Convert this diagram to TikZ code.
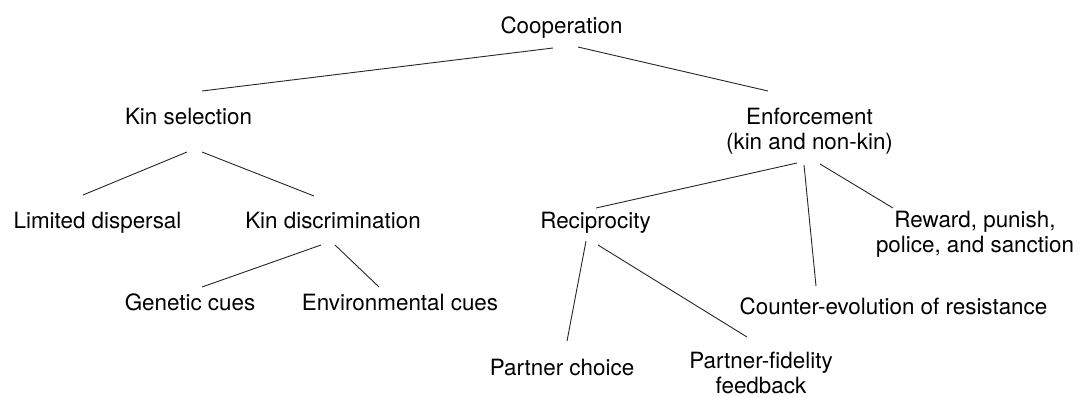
\documentclass[tikz,border=0pt]{standalone}
\usepackage{fontspec}
\setmainfont{TeX Gyre Heros}
\usepackage{tikz}

\begin{document}
\begin{tikzpicture}[
x=1pt, y=-1pt,
term/.style={inner sep=0pt, anchor=base, align=center,
font=\fontsize{22.4}{24.5}\selectfont},
link/.style={line width=0.9pt, draw=black!85}
]
\useasboundingbox (0,0) rectangle (1083,397);

% top levels (two-line nodes sit on their last baseline)
\node[term] (coop) at (561.5,33) {Cooperation};
\node[term] (kinsel) at (188.5,124) {Kin selection};
\node[term] (enforce) at (809.5,149) {Enforcement\\(kin and non-kin)};

% kin selection branch
\node[term] (limdisp) at (97.5,228) {Limited dispersal};
\node[term] (kindisc) at (333,228) {Kin discrimination};
\node[term] (genetic) at (190,310) {Genetic cues};
\node[term] (environ) at (400,310) {Environmental cues};

% enforcement branch
\node[term] (recip) at (595.5,228) {Reciprocity};
\node[term] (reward) at (975,252) {Reward, punish,\\police, and sanction};
\node[term] (counter) at (893.5,314) {Counter-evolution of resistance};
\node[term] (pchoice) at (562,375) {Partner choice};
\node[term] (pfidel) at (761,393) {Partner-fidelity\\feedback};

\draw[link] ([xshift=-8.5pt,yshift=-15pt]coop.base) -- ([xshift=13.5pt,yshift=33pt]kinsel.base);
\draw[link] ([xshift=16.5pt,yshift=-14pt]coop.base) -- ([xshift=-41.5pt,yshift=58pt]enforce.base);

\draw[link] ([xshift=-1.5pt,yshift=-28pt]kinsel.base) -- ([xshift=-14.5pt,yshift=33pt]limdisp.base);
\draw[link] ([xshift=13.5pt,yshift=-28pt]kinsel.base) -- ([xshift=-19pt,yshift=32pt]kindisc.base);
\draw[link] ([xshift=-12pt,yshift=-17pt]kindisc.base) -- ([xshift=12pt,yshift=23pt]genetic.base);
\draw[link] ([xshift=2pt,yshift=-17pt]kindisc.base) -- ([xshift=-21pt,yshift=23pt]environ.base);

\draw[link] ([xshift=-12.5pt,yshift=-14pt]enforce.base) -- ([xshift=0.5pt,yshift=20pt]recip.base);
\draw[link] ([xshift=-5.5pt,yshift=-16pt]enforce.base) -- ([xshift=-77.5pt,yshift=28pt]counter.base);
\draw[link] ([xshift=10.5pt,yshift=-15pt]enforce.base) -- ([xshift=-82pt,yshift=44pt]reward.base);
\draw[link] ([xshift=-9.5pt,yshift=-13pt]recip.base) -- ([xshift=5pt,yshift=34pt]pchoice.base);
\draw[link] ([xshift=2.5pt,yshift=-17pt]recip.base) -- ([xshift=-14pt,yshift=56pt]pfidel.base);

\end{tikzpicture}
\end{document}
